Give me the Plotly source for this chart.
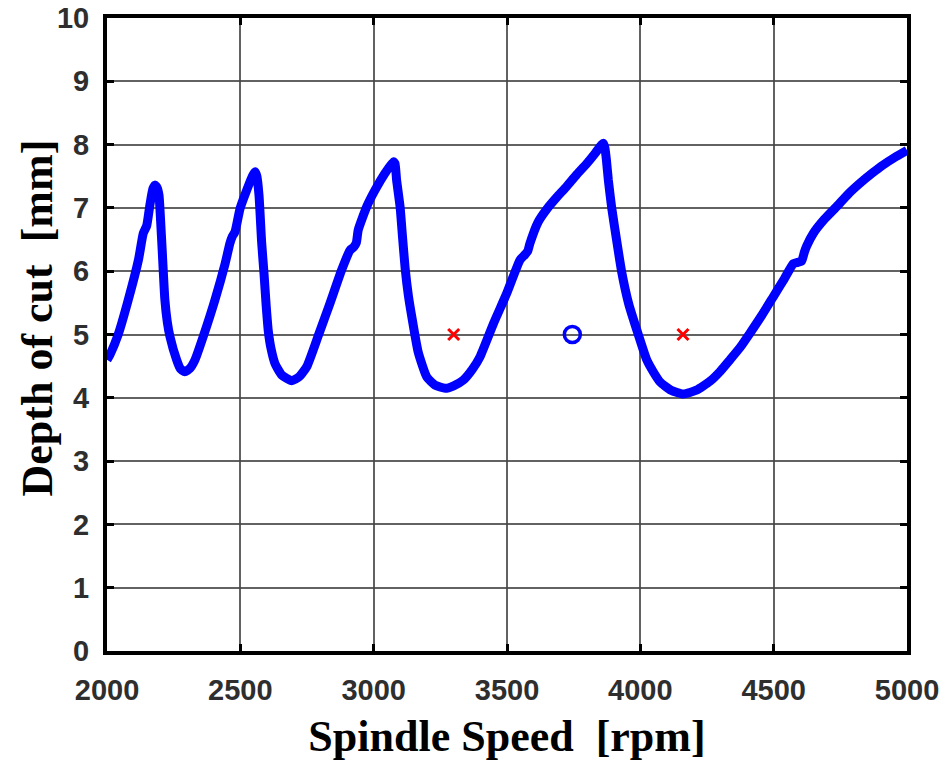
import plotly.graph_objects as go

# Stability lobe curve
speed_rpm = [2000, 2011, 2042, 2080, 2118, 2136, 2149, 2161, 2172, 2180, 2188, 2195, 2201, 2207, 2217,
             2226, 2236, 2261, 2275, 2292, 2310, 2330, 2361, 2405, 2443, 2461, 2470, 2480, 2499, 2524,
             2545, 2555, 2562, 2570, 2580, 2589, 2597, 2605, 2615, 2630, 2655, 2693, 2720, 2749, 2793,
             2836, 2880, 2911, 2925, 2935, 2942, 2974, 3005, 3043, 3074, 3080, 3086, 3099, 3108, 3118,
             3130, 3143, 3167, 3199, 3230, 3268, 3300, 3336, 3370, 3399, 3449, 3499, 3549, 3567, 3578,
             3586, 3617, 3649, 3685, 3724, 3760, 3799, 3830, 3855, 3861, 3867, 3873, 3880, 3893, 3911,
             3930, 3956, 3993, 4024, 4050, 4074, 4115, 4161, 4210, 4261, 4300, 4336, 4375, 4411, 4455,
             4499, 4540, 4574, 4590, 4605, 4615, 4624, 4649, 4690, 4736, 4780, 4824, 4870, 4911, 4955,
             5000]
depth_mm = [4.60, 4.68, 5.00, 5.55, 6.18, 6.60, 6.72, 7.05, 7.30, 7.36, 7.32, 7.20, 6.80, 6.33, 5.55,
            5.20, 4.97, 4.60, 4.46, 4.41, 4.46, 4.60, 4.97, 5.55, 6.12, 6.44, 6.55, 6.62, 6.99, 7.28,
            7.50, 7.57, 7.50, 7.20, 6.45, 5.95, 5.45, 5.05, 4.78, 4.54, 4.36, 4.27, 4.33, 4.49, 4.99,
            5.49, 6.02, 6.33, 6.38, 6.45, 6.65, 7.02, 7.28, 7.55, 7.73, 7.70, 7.44, 7.02, 6.55, 6.05,
            5.62, 5.28, 4.72, 4.33, 4.20, 4.15, 4.19, 4.28, 4.45, 4.65, 5.17, 5.65, 6.18, 6.26, 6.32,
            6.44, 6.78, 6.98, 7.16, 7.34, 7.52, 7.70, 7.86, 8.00, 8.02, 7.95, 7.75, 7.44, 6.99, 6.49,
            5.99, 5.49, 4.99, 4.60, 4.40, 4.25, 4.12, 4.06, 4.12, 4.26, 4.42, 4.60, 4.80, 5.02, 5.30,
            5.60, 5.88, 6.12, 6.14, 6.16, 6.30, 6.40, 6.60, 6.82, 7.02, 7.22, 7.39, 7.55, 7.68, 7.80,
            7.91]

# Unstable test points (red crosses) and stable test point (blue circle)
unstable_rpm = [3300, 4160]
unstable_depth = [5.0, 5.0]
stable_rpm = [3745]
stable_depth = [5.0]

x_ticks = [2000, 2500, 3000, 3500, 4000, 4500, 5000]
y_ticks = [0, 1, 2, 3, 4, 5, 6, 7, 8, 9, 10]

x_title = "Spindle Speed\u00a0\u00a0[rpm]"
y_title = "Depth of cut\u00a0\u00a0[mm]"

fig = go.Figure()
fig.add_trace(go.Scatter(x=speed_rpm, y=depth_mm, mode="lines",
                         line=dict(color="#0000FF", width=9, shape="spline", smoothing=0.5),
                         showlegend=False, hoverinfo="skip"))
fig.add_trace(go.Scatter(x=unstable_rpm, y=unstable_depth, mode="markers",
                         marker=dict(symbol="x-thin", size=11, line=dict(color="#FF0000", width=3)),
                         showlegend=False))
fig.add_trace(go.Scatter(x=stable_rpm, y=stable_depth, mode="markers",
                         marker=dict(symbol="circle-open", size=16, color="#0000FF",
                                     line=dict(color="#0000FF", width=3.5)),
                         showlegend=False))

tick_font = dict(family="Liberation Sans, Arial", size=29, color="#2e2e2e", weight="bold")
title_font = dict(family="Liberation Serif, Times New Roman", size=44, color="#000000", weight="bold")

axis_common = dict(showline=True, linecolor="black", linewidth=4, mirror="ticks",
                   ticks="inside", ticklen=7, tickwidth=3, tickcolor="black",
                   showgrid=True, gridcolor="rgba(70,70,70,0.85)", gridwidth=1.5,
                   zeroline=False, tickfont=tick_font, automargin=False)

fig.update_xaxes(range=[2000, 5000], tickvals=x_ticks, ticktext=[str(v) for v in x_ticks],
                 title=dict(text=x_title, font=title_font, standoff=16),
                 ticklabelstandoff=10, **axis_common)
fig.update_yaxes(range=[0, 10], tickvals=y_ticks, ticktext=[str(v) for v in y_ticks],
                 ticklabelstandoff=8, **axis_common)

fig.add_annotation(text=y_title, xref="paper", yref="paper", x=0, y=0.5,
                   xanchor="center", yanchor="middle", xshift=-70, yshift=16,
                   textangle=-90, showarrow=False, font=title_font)

fig.update_layout(width=945, height=761, margin=dict(l=107, r=38, t=18, b=110),
                  paper_bgcolor="white", plot_bgcolor="white")

fig.write_html("out.html", config={"displayModeBar": False},
               post_script="document.body.style.margin='0';document.body.style.overflow='hidden';")
